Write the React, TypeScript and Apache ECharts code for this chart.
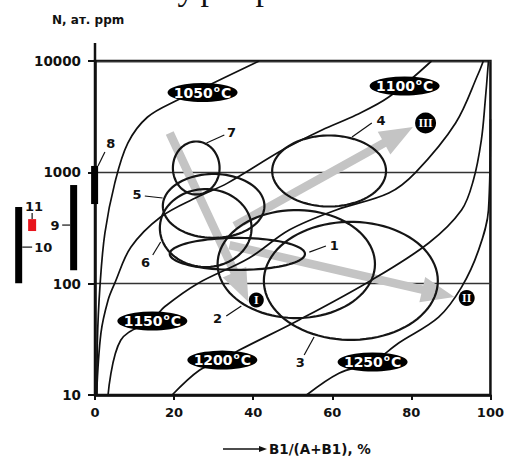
import React, { useEffect, useRef } from "react";
import * as echarts from "echarts";

const FONT = '"DejaVu Sans", sans-serif';

// axes
const xTicks = [0, 20, 40, 60, 80, 100];
const yTickLabels = ["10", "100", "1000", "10000"];

// isotherms [x %, N ppm]
const curve1050 = [[0.5, 10], [0.6, 30], [1.3, 100], [2.5, 285], [5, 800], [8.3, 1830], [13.3, 3140], [20.9, 4470], [27.2, 5700], [41.5, 10000]];
const curve1100 = [[0.4, 10], [1.5, 36], [3.3, 71], [5, 101], [9.1, 213], [16.6, 397], [25.9, 600], [33.5, 800], [47.4, 1585], [57.4, 2400], [66, 3275], [74.3, 4750], [85.1, 10000]];
const curve1150 = [[3.3, 10], [6.5, 31], [14.6, 48], [17.6, 62], [25.9, 100], [39, 170], [49.1, 303], [61, 459], [74.3, 652], [81.1, 1000], [91.2, 2775], [97, 7800], [98.2, 10000]];
const curve1200 = [[19.5, 10], [26.4, 16.7], [32.2, 20.6], [36.5, 25.3], [51.6, 47.2], [70, 108], [84.4, 232], [92.7, 459], [95.7, 853], [97.7, 1950], [98.7, 4470], [99.5, 10000]];
const curve1250 = [[53.5, 10], [61.7, 15.7], [70.2, 19.8], [76.8, 29.3], [86.9, 50], [92.7, 93], [97, 200], [99.5, 459], [100, 3000]];
const isotherms = [curve1050, curve1100, curve1150, curve1200, curve1250];

// temperature labels
const tempLabels = ["1050", "1100", "1150", "1200", "1250"];
const tempX = [27.2, 78.3, 14.5, 32.2, 70.2];
const tempY = [5212, 5960, 46.2, 20.6, 19.8];

// ellipses 1..7: centre x, centre N, half-width (%), half-height (decades)
const ellipseNames = ["1", "2", "3", "4", "5", "6", "7"];
const ellipseCx = [36.0, 50.9, 64.7, 59.2, 30.0, 28.0, 25.6];
const ellipseCy = [185, 150, 106, 1028, 499, 316, 1094];
const ellipseRx = [17.1, 19.9, 22.0, 14.4, 12.85, 11.6, 5.9];
const ellipseRy = [0.144, 0.485, 0.53, 0.319, 0.287, 0.35, 0.238];

// trend arrows I, II, III
const arrowFrom = [[18.9, 2256], [34.0, 222], [35.3, 330]];
const arrowTo = [[38.8, 68.4], [90.9, 75.9], [80.4, 2553]];

// zone markers
const zoneLabels = ["I", "II", "III"];
const zoneX = [40.8, 94.0, 83.6];
const zoneY = [71.3, 74.3, 2775];

// numbered callouts
const calloutText = ["1", "2", "3", "4", "5", "6", "7", "8", "9", "10", "11"];
const calloutPos = [[60.5, 222], [31.0, 48.2], [51.9, 19.4], [72.3, 2950], [10.6, 626], [12.8, 154], [34.5, 2256], [4.0, 1833], [-10.1, 330], [-13.1, 213], [-15.4, 489]];
const leaderFrom = [[54.2, 192], [33.2, 51.3], [52.9, 22.9], [70.0, 2775], [12.6, 613], [14.6, 181], [32.7, 2163], [2.5, 1524], [-8.3, 336], [-18.4, 213], [-15.9, 431]];
const leaderTo = [[58.4, 218], [37.0, 63.0], [55.4, 33.2], [65.0, 2075], [17.1, 588], [16.6, 237], [28.2, 1834], [0.76, 1141], [-6.3, 336], [-15.9, 213], [-15.9, 381]];

// range bars 8..11 (left of the axis)
const rangeNames = ["8", "9", "10", "11"];
const rangeX = [-0.1, -5.4, -19.3, -15.9];
const rangeLow = [519, 132, 101, 297];
const rangeHigh = [1141, 769, 487, 380];
const rangeColors = ["#000", "#000", "#000", "#e8141c"];
const rangeWidths = [7, 7, 7, 8];

function buildOption(): any {
  const lineSeries = isotherms.map((pts, i) => ({
    type: "line",
    name: tempLabels[i],
    data: pts,
    smooth: 0.35,
    symbol: "none",
    silent: true,
    lineStyle: { color: "#111", width: 1.7 },
    z: 3,
  }));

  return {
    animation: false,
    backgroundColor: "#fff",
    textStyle: { fontFamily: FONT },
    grid: { left: 95, right: 15, top: 61, bottom: 63, show: true, borderColor: "#111", borderWidth: 2.5, backgroundColor: "transparent" },
    xAxis: {
      type: "value",
      min: xTicks[0],
      max: xTicks[xTicks.length - 1],
      interval: 20,
      axisLine: { show: true, lineStyle: { color: "#111", width: 2.5 } },
      axisTick: { show: true, length: 5, lineStyle: { color: "#111", width: 2 } },
      axisLabel: { color: "#111", fontFamily: FONT, fontWeight: "bold", fontSize: 13, margin: 11 },
      splitLine: { show: false },
    },
    yAxis: {
      type: "log",
      logBase: 10,
      min: 10,
      max: 10000,
      axisLine: { show: true, lineStyle: { color: "#111", width: 2.5 } },
      axisTick: { show: true, length: 7, lineStyle: { color: "#111", width: 2 } },
      axisLabel: {
        color: "#111",
        fontFamily: FONT,
        fontWeight: "bold",
        fontSize: 13.5,
        margin: 14,
        formatter: (v: number) => yTickLabels[Math.round(Math.log10(v)) - 1] ?? String(v),
      },
      splitLine: { show: true, lineStyle: { color: "#333", width: 1.3 } },
    },
    graphic: [
      { type: "line", shape: { x1: 95, y1: 43, x2: 95, y2: 61 }, style: { stroke: "#111", lineWidth: 2.5 } },
      { type: "text", x: 52, y: 20, style: { text: "N, ат. ppm", font: `bold 12px ${FONT}`, fill: "#111", align: "left", verticalAlign: "middle", textAlign: "left", textVerticalAlign: "middle" } },
      { type: "line", shape: { x1: 223, y1: 449, x2: 261, y2: 449 }, style: { stroke: "#111", lineWidth: 1.5 } },
      { type: "polygon", shape: { points: [[259, 446], [267, 449], [259, 452]] }, style: { fill: "#111" } },
      { type: "text", x: 269, y: 449, style: { text: "B1/(A+B1), %", font: `bold 13.5px ${FONT}`, fill: "#111", align: "left", verticalAlign: "middle", textAlign: "left", textVerticalAlign: "middle" } },
      { type: "text", x: 186, y: -12, style: { text: "у", font: '34px "Liberation Serif", serif', fill: "#111", align: "center", verticalAlign: "middle", textAlign: "center", textVerticalAlign: "middle" } },
      { type: "text", x: 209, y: -12, style: { text: "р", font: '34px "Liberation Serif", serif', fill: "#111", align: "center", verticalAlign: "middle", textAlign: "center", textVerticalAlign: "middle" } },
      { type: "text", x: 264, y: -12, style: { text: "р", font: '34px "Liberation Serif", serif', fill: "#111", align: "center", verticalAlign: "middle", textAlign: "center", textVerticalAlign: "middle" } },
    ],
    series: [
      {
        type: "custom",
        name: "arrows",
        silent: true,
        clip: false,
        z: 1,
        encode: { x: [0, 2], y: [1, 3] },
        data: arrowFrom.map((f, i) => [f[0], f[1], arrowTo[i][0], arrowTo[i][1]]),
        renderItem: (params: any, api: any) => {
          const p1 = api.coord([api.value(0), api.value(1)]);
          const p2 = api.coord([api.value(2), api.value(3)]);
          const dx = p2[0] - p1[0];
          const dy = p2[1] - p1[1];
          const L = Math.hypot(dx, dy) || 1;
          const ux = dx / L, uy = dy / L;
          const nx = -uy, ny = ux;
          const hw = 4.3, hh = 13, hl = 33;
          const bx = p2[0] - ux * hl, by = p2[1] - uy * hl;
          return {
            type: "polygon",
            shape: {
              points: [
                [p1[0] + nx * hw, p1[1] + ny * hw],
                [bx + nx * hw, by + ny * hw],
                [bx + nx * hh, by + ny * hh],
                [p2[0], p2[1]],
                [bx - nx * hh, by - ny * hh],
                [bx - nx * hw, by - ny * hw],
                [p1[0] - nx * hw, p1[1] - ny * hw],
              ],
            },
            style: { fill: "#c4c4c4", stroke: "none" },
          };
        },
      },
      ...lineSeries,
      {
        type: "custom",
        name: "ellipses",
        silent: true,
        clip: false,
        z: 4,
        encode: { x: 0, y: 1 },
        data: ellipseNames.map((_, i) => [ellipseCx[i], ellipseCy[i], ellipseRx[i], ellipseRy[i]]),
        renderItem: (params: any, api: any) => {
          const cx = api.value(0), cy = api.value(1), rx = api.value(2), ry = api.value(3);
          const pts: number[][] = [];
          const N = 90;
          for (let k = 0; k < N; k++) {
            const t = (k / N) * Math.PI * 2;
            pts.push(api.coord([cx + rx * Math.cos(t), cy * Math.pow(10, ry * Math.sin(t))]));
          }
          return { type: "polygon", shape: { points: pts }, style: { fill: "none", stroke: "#151515", lineWidth: 2.2 } };
        },
      },
      {
        type: "custom",
        name: "ranges",
        silent: true,
        clip: false,
        z: 5,
        encode: { x: 0, y: [1, 2] },
        data: rangeNames.map((_, i) => [rangeX[i], rangeLow[i], rangeHigh[i]]),
        renderItem: (params: any, api: any) => {
          const i = params.dataIndex;
          const top = api.coord([api.value(0), api.value(2)]);
          const bot = api.coord([api.value(0), api.value(1)]);
          const w = rangeWidths[i];
          return { type: "rect", shape: { x: top[0] - w / 2, y: top[1], width: w, height: bot[1] - top[1] }, style: { fill: rangeColors[i] } };
        },
      },
      {
        type: "custom",
        name: "callouts",
        silent: true,
        clip: false,
        z: 6,
        encode: { x: [0, 2, 4], y: [1, 3, 5] },
        data: calloutText.map((_, i) => [calloutPos[i][0], calloutPos[i][1], leaderFrom[i][0], leaderFrom[i][1], leaderTo[i][0], leaderTo[i][1]]),
        renderItem: (params: any, api: any) => {
          const i = params.dataIndex;
          const t = api.coord([api.value(0), api.value(1)]);
          const a = api.coord([api.value(2), api.value(3)]);
          const b = api.coord([api.value(4), api.value(5)]);
          return {
            type: "group",
            children: [
              { type: "line", shape: { x1: a[0], y1: a[1], x2: b[0], y2: b[1] }, style: { stroke: "#111", lineWidth: 1.2 } },
              {
                type: "text",
                x: t[0],
                y: t[1],
                style: { text: calloutText[i], fill: "#111", font: `bold 13px ${FONT}`, align: "center", verticalAlign: "middle", textAlign: "center", textVerticalAlign: "middle" },
              },
            ],
          };
        },
      },
      {
        type: "scatter",
        name: "temperatures",
        silent: true,
        z: 8,
        data: tempLabels.map((_, i) => [tempX[i], tempY[i]]),
        symbol: "circle",
        symbolSize: [70, 19],
        itemStyle: { color: "#000", opacity: 1 },
        label: {
          show: true,
          position: "inside",
          formatter: (p: any) => `{a|${tempLabels[p.dataIndex]}}{s|o}{a|C}`,
          rich: {
            a: { color: "#fff", fontFamily: FONT, fontWeight: "bold", fontSize: 14 },
            s: { color: "#fff", fontFamily: FONT, fontWeight: "bold", fontSize: 9, padding: [0, 1, 8, 1] },
          },
        },
      },
      {
        type: "scatter",
        name: "zones",
        silent: true,
        z: 8,
        data: zoneLabels.map((_, i) => [zoneX[i], zoneY[i]]),
        symbol: "circle",
        symbolSize: (v: any, p: any) => [15, 16, 21][p.dataIndex],
        itemStyle: { color: "#000", opacity: 1 },
        label: {
          show: true,
          position: "inside",
          formatter: (p: any) => zoneLabels[p.dataIndex],
          color: "#fff",
          fontFamily: '"Liberation Serif", serif',
          fontWeight: "bold",
          fontSize: 12,
        },
      },
    ],
  };
}

export default function App() {
  const ref = useRef<HTMLDivElement>(null);
  useEffect(() => {
    if (!ref.current) return;
    const chart = echarts.init(ref.current, null, { renderer: "svg" });
    chart.setOption(buildOption());
    return () => chart.dispose();
  }, []);
  return <div ref={ref} style={{ position: "absolute", left: 0, top: 0, width: 507, height: 458, background: "#fff" }} />;
}
